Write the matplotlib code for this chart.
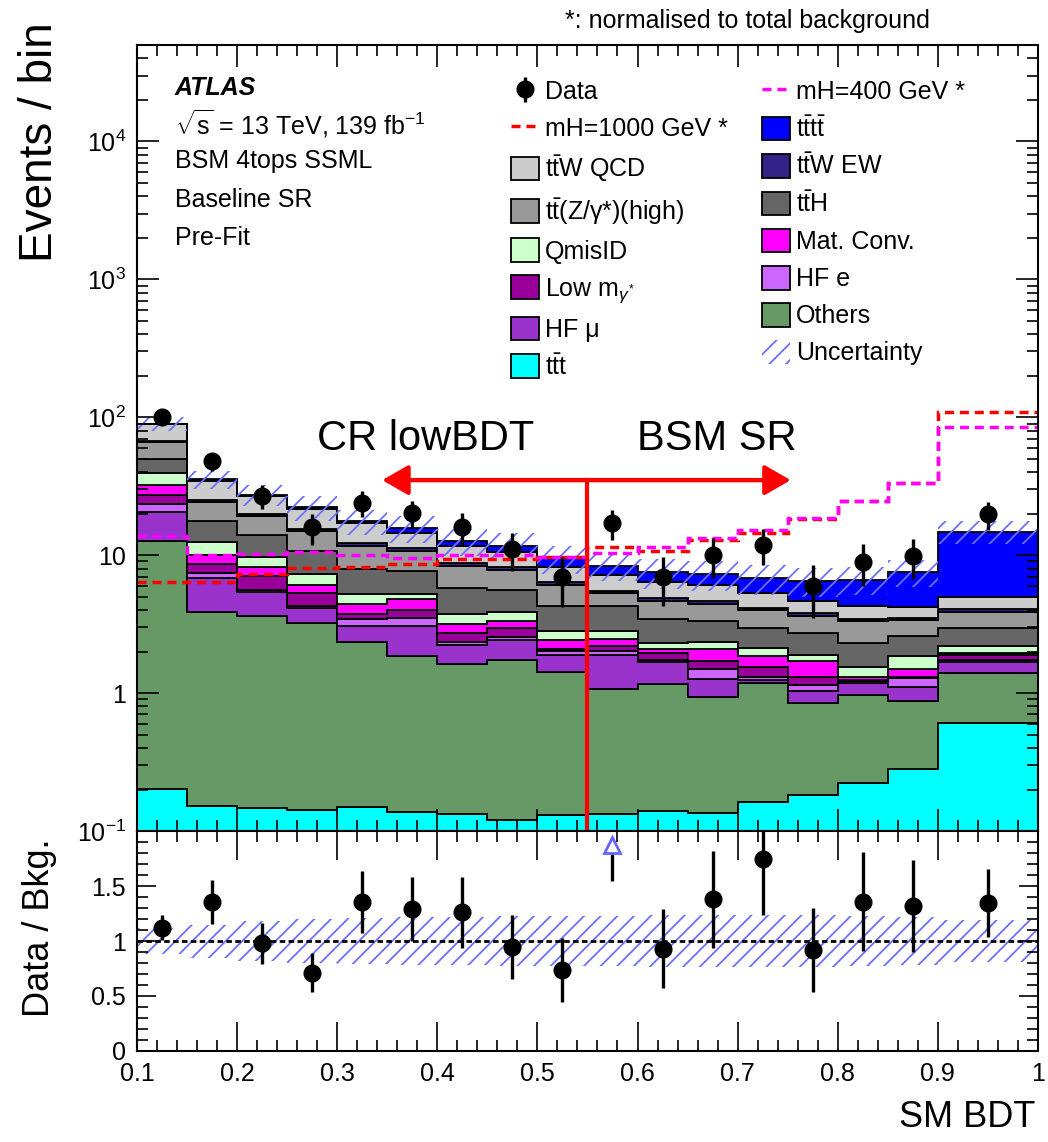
import numpy as np
import matplotlib.pyplot as plt
from matplotlib.lines import Line2D
from matplotlib.patches import Patch
from matplotlib.ticker import MultipleLocator, LogLocator, NullFormatter, FixedLocator, FuncFormatter

plt.rcParams['font.family'] = ['Liberation Sans', 'DejaVu Sans']
plt.rcParams['mathtext.fontset'] = 'custom'
plt.rcParams['mathtext.rm'] = 'Liberation Sans'
plt.rcParams['mathtext.it'] = 'Liberation Sans:italic'
plt.rcParams['mathtext.bf'] = 'Liberation Sans:bold'
plt.rcParams['hatch.linewidth'] = 1.3

# SM BDT binning
edges = [0.1, 0.15, 0.2, 0.25, 0.3, 0.35, 0.4, 0.45, 0.5, 0.55, 0.6, 0.65, 0.7, 0.75, 0.8, 0.85, 0.9, 1.0]

# pre-fit yields per bin, stack order bottom -> top
ttt      = [0.20, 0.15, 0.145, 0.141, 0.148, 0.136, 0.133, 0.12, 0.13, 0.131, 0.139, 0.134, 0.162, 0.183, 0.221, 0.279, 0.606]
others   = [12.5, 3.75, 3.45, 3.08, 2.18, 1.72, 1.50, 1.62, 1.30, 0.94, 1.03, 0.80, 1.02, 0.66, 0.75, 0.59, 0.80]
hf_mu    = [7.9, 2.91, 1.80, 0.90, 0.73, 1.20, 0.59, 0.68, 0.45, 0.81, 0.52, 0.34, 0.06, 0.20, 0.22, 0.235, 0.28]
hf_e     = [2.9, 0.59, 0.22, 0.15, 0.36, 0.45, 0.11, 0.13, 0.14, 0.14, 0.05, 0.22, 0.07, 0.11, 0.03, 0.18, 0.05]
low_m    = [3.9, 1.18, 1.41, 1.06, 0.35, 0.48, 0.40, 0.42, 0.08, 0.17, 0.20, 0.20, 0.24, 0.15, 0.03, 0.03, 0.14]
mat_conv = [4.9, 1.39, 1.14, 0.79, 0.69, 0.83, 0.45, 0.35, 0.31, 0.28, 0.14, 0.41, 0.30, 0.40, 0.05, 0.19, 0.07]
qmisid   = [7.2, 2.53, 1.56, 1.14, 0.81, 0.45, 0.59, 0.56, 0.41, 0.35, 0.23, 0.23, 0.28, 0.20, 0.25, 0.35, 0.25]
tth      = [10.4, 5.1, 4.18, 3.44, 2.73, 2.42, 1.96, 1.70, 1.46, 1.45, 1.14, 0.98, 0.84, 0.81, 0.74, 0.72, 0.78]
ttz      = [16.3, 6.9, 5.2, 4.3, 3.7, 3.1, 2.64, 2.28, 1.81, 1.03, 1.24, 1.13, 1.01, 0.93, 1.02, 0.79, 0.92]
ttw_ew   = [1.5, 0.6, 0.8, 0.6, 0.5, 0.45, 0.35, 0.33, 0.25, 0.21, 0.19, 0.18, 0.16, 0.15, 0.14, 0.14, 0.16]
ttw_qcd  = [21.7, 9.4, 6.8, 5.9, 4.9, 3.35, 2.98, 2.41, 1.93, 1.69, 1.49, 1.48, 1.17, 0.87, 0.83, 0.74, 0.95]
tttt     = [0.6, 1.0, 0.8, 0.8, 0.6, 1.1, 1.0, 1.1, 1.23, 1.17, 1.16, 1.19, 1.5, 1.87, 2.35, 3.29, 9.8]

# relative total uncertainty on the background
unc_rel = [0.12, 0.15, 0.18, 0.20, 0.21, 0.22, 0.22, 0.23, 0.23, 0.23, 0.24, 0.24, 0.24, 0.24, 0.23, 0.22, 0.19]

# BSM signals, normalised to total background
mh400  = [13.8, 9.95, 10.2, 10.6, 10.1, 9.6, 9.95, 9.95, 9.7, 10.3, 11.4, 13.3, 15.1, 18.5, 24.6, 33.4, 85.5]
mh1000 = [6.37, 6.37, 7.33, 8.05, 8.2, 8.66, 9.4, 9.4, 9.7, 11.4, 10.8, 12.8, 14.6, 18.2, 24.6, 33.4, 110]

# data and its error (in units of the ratio)
data = [101, 48.2, 26.9, 15.9, 24.0, 20.2, 16.0, 11.05, 7.0, 17.1, 7.0, 10.05, 11.9, 5.99, 8.99, 9.93, 19.9]
ratio_err = [0.11, 0.20, 0.19, 0.18, 0.28, 0.29, 0.32, 0.29, 0.29, 0.50, 0.36, 0.44, 0.51, 0.38, 0.45, 0.42, 0.31]

cut = 0.55
arrow_y = 35
arrow_left = 0.345
arrow_right = 0.753

edges = np.array(edges)
centers = 0.5 * (edges[1:] + edges[:-1])
data = np.array(data)

fig = plt.figure(figsize=(10.48, 11.42), dpi=100)
ax1 = fig.add_axes([0.1307, 0.2723, 0.8597, 0.6883])
ax2 = fig.add_axes([0.1307, 0.0797, 0.8597, 0.1926])

samples = [
    (r't$\bar{\mathrm{t}}$t', ttt, '#00ffff'),
    ('Others', others, '#669966'),
    ('HF μ', hf_mu, '#9933cc'),
    ('HF e', hf_e, '#cc66ff'),
    (r'Low m$_{\gamma^{*}}$', low_m, '#990099'),
    ('Mat. Conv.', mat_conv, '#ff00ff'),
    ('QmisID', qmisid, '#ccffcc'),
    (r't$\bar{\mathrm{t}}$H', tth, '#666666'),
    (r't$\bar{\mathrm{t}}$(Z/γ*)(high)', ttz, '#999999'),
    (r't$\bar{\mathrm{t}}$W EW', ttw_ew, '#332288'),
    (r't$\bar{\mathrm{t}}$W QCD', ttw_qcd, '#cccccc'),
    (r't$\bar{\mathrm{t}}$t$\bar{\mathrm{t}}$', tttt, '#0000ff'),
]

bottom = np.full(len(centers), 1e-3)
patches = []
for label, vals, col in samples:
    top = bottom + np.array(vals)
    ax1.stairs(top, edges, baseline=bottom, fill=True, facecolor=col, edgecolor='black', linewidth=1.3)
    patches.append(Patch(facecolor=col, edgecolor='black', linewidth=1.3, label=label))
    bottom = top
total = bottom

unc = np.array(unc_rel)
hatch_col = '#6f6fff'
ax1.stairs(total * (1 + unc), edges, baseline=total * (1 - unc), fill=True,
           facecolor='none', edgecolor=hatch_col, hatch='//', linewidth=0)

dash = (0, (2.6, 1.7))
ax1.stairs(mh1000, edges, baseline=None, color='red', linestyle=dash, linewidth=2.5)
ax1.stairs(mh400, edges, baseline=None, color='#ff00ff', linestyle=dash, linewidth=2.5)

ratio = data / total
rerr = np.array(ratio_err)
eb = ax1.errorbar(centers, data, yerr=rerr * total, fmt='o', color='black', ms=12,
                  elinewidth=2.4, capsize=0)

# region split
ax1.plot([cut, cut], [0.1, arrow_y], color='red', lw=3)
ax1.plot([arrow_left + 0.02, arrow_right - 0.02], [arrow_y, arrow_y], color='red', lw=3)
for tip in (arrow_left, arrow_right):
    ax1.annotate('', xy=(tip, arrow_y), xytext=(cut, arrow_y),
                 arrowprops=dict(arrowstyle='-|>,head_length=0.4,head_width=0.23',
                                 color='red', lw=3, mutation_scale=40, shrinkA=0, shrinkB=0))
ax1.text(0.320, 0.4847, 'CR lowBDT', transform=ax1.transAxes, fontsize=30, ha='center', va='baseline')
ax1.text(0.644, 0.4847, 'BSM SR', transform=ax1.transAxes, fontsize=30, ha='center', va='baseline')

ax1.set_xlim(0.1, 1.0)
ax1.set_yscale('log')
ax1.set_ylim(0.1, 5e4)
ax1.yaxis.set_major_locator(FixedLocator([0.1, 1, 10, 100, 1e3, 1e4]))
ax1.set_yticklabels([r'$10^{-1}$', '1', '10', r'$10^{2}$', r'$10^{3}$', r'$10^{4}$'])
ax1.yaxis.set_minor_locator(LogLocator(base=10, subs=np.arange(2, 10), numticks=20))
ax1.yaxis.set_minor_formatter(NullFormatter())
ax1.xaxis.set_major_locator(MultipleLocator(0.1))
ax1.xaxis.set_minor_locator(MultipleLocator(0.02))
ax1.tick_params(which='both', direction='in', top=True, right=True, labelbottom=False,
                labelsize=18, pad=8, width=1.2)
ax1.tick_params(which='major', length=16)
ax1.tick_params(which='minor', length=8)

# text block
tx = 0.0422
ax1.text(tx, 0.9364, 'ATLAS', transform=ax1.transAxes, fontsize=18, fontweight='bold', style='italic')
ax1.text(tx, 0.8855, r'$\sqrt{\mathrm{s}}$ = 13 TeV, 139 fb$^{-1}$', transform=ax1.transAxes, fontsize=18)
ax1.text(tx, 0.8435, 'BSM 4tops SSML', transform=ax1.transAxes, fontsize=18)
ax1.text(tx, 0.7939, 'Baseline SR', transform=ax1.transAxes, fontsize=18)
ax1.text(tx, 0.7455, 'Pre-Fit', transform=ax1.transAxes, fontsize=18)
fig.text(0.8874, 0.9755, '*: normalised to total background', fontsize=18, ha='right', va='baseline')

# legend, two columns
lk = dict(frameon=False, fontsize=18, handlelength=1.12, handleheight=1.08, handletextpad=0.25,
          labelspacing=0.47, borderpad=0, borderaxespad=0, loc='upper left')
line1000 = Line2D([], [], color='red', linestyle=dash, lw=2.5)
line400 = Line2D([], [], color='#ff00ff', linestyle=dash, lw=2.5)
unc_patch = Patch(facecolor='none', edgecolor=hatch_col, hatch='//', linewidth=0)
col1 = [eb, line1000, patches[10], patches[8], patches[6], patches[4], patches[2], patches[0]]
lab1 = ['Data', 'mH=1000 GeV *', samples[10][0], samples[8][0], samples[6][0], samples[4][0],
        samples[2][0], samples[0][0]]
col2 = [line400, patches[11], patches[9], patches[7], patches[5], patches[3], patches[1], unc_patch]
lab2 = ['mH=400 GeV *', samples[11][0], samples[9][0], samples[7][0], samples[5][0], samples[3][0],
        samples[1][0], 'Uncertainty']
leg1 = ax1.legend(col1, lab1, bbox_to_anchor=(0.4151, 0.9568), **lk)
ax1.add_artist(leg1)
ax1.legend(col2, lab2, bbox_to_anchor=(0.6937, 0.9568), **lk)

# ratio panel
ax2.stairs(1 + unc, edges, baseline=1 - unc, fill=True, facecolor='none', edgecolor=hatch_col,
           hatch='//', linewidth=0)
ax2.axhline(1, color='black', linestyle=(0, (2, 1.2)), lw=2)
inside = ratio <= 2
ax2.errorbar(centers[inside], ratio[inside], yerr=rerr[inside], fmt='o', color='black', ms=12,
             elinewidth=2.4, capsize=0)
for c, r, e in zip(centers[~inside], ratio[~inside], rerr[~inside]):
    ax2.vlines(c, r - e, 1.81, color='black', lw=2.4)
    ax2.plot(c, 1.875, marker='^', ms=11, mfc='white', mec='#6666ff', mew=2)

ax2.set_xlim(0.1, 1.0)
ax2.set_ylim(0, 2)
ax2.xaxis.set_major_locator(MultipleLocator(0.1))
ax2.xaxis.set_minor_locator(MultipleLocator(0.02))
ax2.xaxis.set_major_formatter(FuncFormatter(lambda v, pos: f'{v:g}'))
ax2.yaxis.set_major_locator(FixedLocator([0, 0.5, 1, 1.5]))
ax2.set_yticklabels(['0', '0.5', '1', '1.5'])
ax2.yaxis.set_minor_locator(MultipleLocator(0.1))
ax2.tick_params(which='both', direction='in', top=True, right=True, labelsize=18, pad=8, width=1.2)
ax2.tick_params(axis='x', which='major', length=21)
ax2.tick_params(axis='y', which='major', length=14)
ax2.tick_params(which='minor', length=8)

for a in (ax1, ax2):
    for s in a.spines.values():
        s.set_linewidth(1.5)

fig.text(40 / 1048, 1 - 22 / 1142, 'Events / bin', rotation=90, fontsize=33, ha='center', va='top')
fig.text(40 / 1048, 1 - 928 / 1142, 'Data / Bkg.', rotation=90, fontsize=26, ha='center', va='center')
fig.text(1035 / 1048, 1 - 1127 / 1142, 'SM BDT', fontsize=26, ha='right', va='baseline')

fig.savefig('out.png', dpi=100)
